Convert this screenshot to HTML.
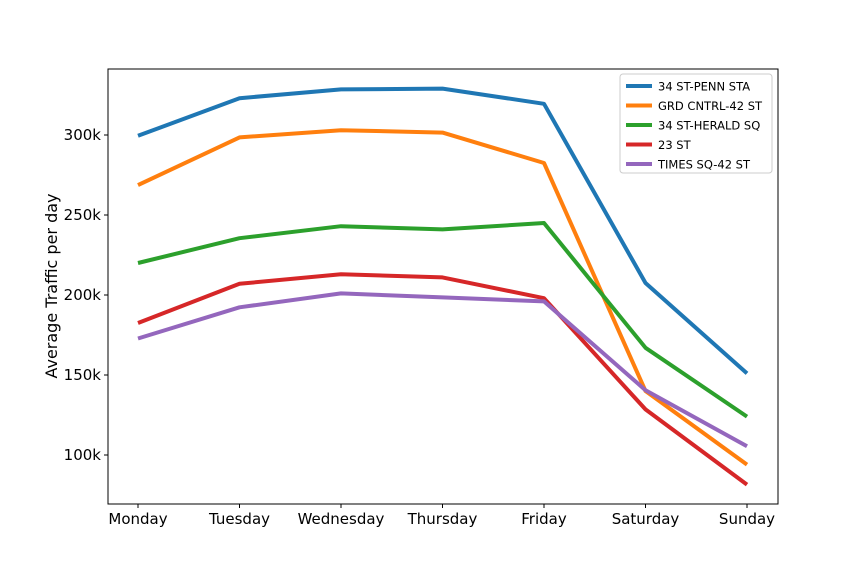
<!DOCTYPE html>
<html><head><meta charset="utf-8"><style>
body{margin:0;background:#fff;}
svg text{font-family:"DejaVu Sans","Liberation Sans",sans-serif;}
</style></head><body>
<svg id="chart" width="864" height="576" xmlns="http://www.w3.org/2000/svg"></svg>
<script>
const categories=["Monday","Tuesday","Wednesday","Thursday","Friday","Saturday","Sunday"];
const seriesNames=["34 ST-PENN STA","GRD CNTRL-42 ST","34 ST-HERALD SQ","23 ST","TIMES SQ-42 ST"];
const seriesColors=["#1f77b4","#ff7f0e","#2ca02c","#d62728","#9467bd"];
const pennValues=[299500,323000,328500,329000,319500,207500,151000];
const grdValues=[268700,298500,303000,301500,282500,140000,94000];
const heraldValues=[220000,235500,243000,241000,245000,167000,124000];
const st23Values=[182500,207000,213000,211000,198000,128500,81500];
const timesValues=[172800,192300,201000,198500,196000,140500,105500];
const yTicks=[100000,150000,200000,250000,300000];
const yTickLabels=["100k","150k","200k","250k","300k"];
const allSeries=[pennValues,grdValues,heraldValues,st23Values,timesValues];

const NS="http://www.w3.org/2000/svg";
const svg=document.getElementById('chart');
const L=108,R=778,T=69,B=504;
function x(i){return 138+i*(747-138)/(categories.length-1);}
function y(v){return 455-(v-100000)/50000*80;}
function mk(tag,attrs,parent){const e=document.createElementNS(NS,tag);for(const k in attrs)e.setAttribute(k,attrs[k]);(parent||svg).appendChild(e);return e;}

allSeries.forEach((vals,s)=>{
  const p=mk('polyline',{points:vals.map((v,i)=>x(i)+','+y(v)).join(' '),fill:'none',stroke:seriesColors[s],'stroke-width':4,'stroke-linejoin':'round'});
  
  
});
const frame=mk('rect',{x:L,y:T,width:R-L,height:B-T,fill:'none',stroke:'#000','stroke-width':1});



categories.forEach((c,i)=>{
  mk('line',{x1:x(i),x2:x(i),y1:B,y2:B+4,stroke:'#000'});
  const t=mk('text',{x:x(i),y:B+20,'text-anchor':'middle','font-size':15});
  t.textContent=c;
  
  
});
yTicks.forEach((v,i)=>{
  mk('line',{x1:L-4,x2:L,y1:y(v),y2:y(v),stroke:'#000'});
  const t=mk('text',{x:L-7,y:y(v)+5,'text-anchor':'end','font-size':15});
  t.textContent=yTickLabels[i];
  
  
});
const yt=mk('text',{x:57,y:286,'text-anchor':'middle','font-size':16,transform:'rotate(-90 57 286)'});
yt.textContent="Average Traffic per day";



const lg=mk('g',{});


mk('rect',{x:620,y:74,width:152,height:99,rx:3,fill:'#fff',stroke:'#ccc'},lg);
seriesNames.forEach((n,s)=>{
  const yy=86+s*19.5;
  mk('line',{x1:626,x2:652,y1:yy,y2:yy,stroke:seriesColors[s],'stroke-width':4},lg);
  const t=mk('text',{x:658,y:yy+4.5,'font-size':11.5},lg);
  t.textContent=n;
  
  
});
</script>
</body></html>
